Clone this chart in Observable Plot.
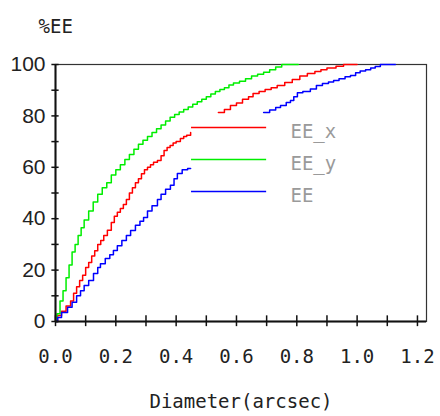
<!DOCTYPE html>
<html>
<head>
<meta charset="utf-8">
<script src="https://cdn.jsdelivr.net/npm/d3@7"></script>
<script src="https://cdn.jsdelivr.net/npm/@observablehq/plot@0.6"></script>
<style>
  body { margin: 0; background: #fff; }
</style>
</head>
<body>
<div id="chart"></div>
<script>
// Encircled energy (%) versus aperture diameter (arcsec); null marks a break in a curve.
const eeX = [
  [0, 0], [0.007, 2.3], [0.02, 4], [0.035, 6], [0.05, 8], [0.06, 11], [0.07, 13.5],
  [0.08, 16], [0.09, 18], [0.1, 21], [0.11, 23], [0.12, 25.5], [0.13, 27.5], [0.14, 30],
  [0.15, 31.5], [0.16, 33.5], [0.172, 35.5], [0.185, 38.5], [0.195, 41], [0.205, 42.5],
  [0.215, 44], [0.225, 45.5], [0.235, 47.5], [0.245, 50], [0.255, 52], [0.265, 54],
  [0.275, 55.5], [0.285, 57.5], [0.295, 59], [0.305, 60], [0.315, 61], [0.325, 62],
  [0.338, 62.6], [0.35, 64.5], [0.36, 66.5], [0.37, 67.7], [0.38, 68.5], [0.39, 69.5],
  [0.4, 70], [0.414, 71.2], [0.425, 72], [0.435, 72.5], [0.448, 73.5],
  [0.5, null],
  [0.54, 81.3], [0.56, 82.5], [0.58, 84], [0.6, 85], [0.62, 86.5], [0.64, 87.5],
  [0.655, 88.7], [0.675, 89.5], [0.695, 90.3], [0.715, 91], [0.735, 91.8], [0.76, 93],
  [0.785, 94.2], [0.81, 95.5], [0.835, 96.5], [0.86, 97.3], [0.88, 98], [0.9, 98.6],
  [0.93, 99.3], [0.955, 100], [1.0, 100]
];
const eeY = [
  [0, 0], [0.005, 3], [0.015, 8], [0.025, 12], [0.035, 17], [0.045, 22], [0.055, 27],
  [0.065, 30], [0.075, 33.5], [0.085, 36.5], [0.095, 39.5], [0.11, 43], [0.125, 46.5],
  [0.14, 49.5], [0.155, 52], [0.17, 54], [0.185, 57], [0.2, 59], [0.215, 61], [0.23, 63],
  [0.245, 65], [0.26, 67], [0.275, 69], [0.29, 70.5], [0.305, 72], [0.32, 73.5],
  [0.335, 75], [0.35, 76.5], [0.365, 78], [0.38, 79.5], [0.395, 80.5], [0.41, 81.5],
  [0.425, 82.5], [0.44, 83.5], [0.455, 84.5], [0.47, 85.5], [0.485, 86.5], [0.5, 87.5],
  [0.515, 88.5], [0.53, 89.5], [0.545, 90.3], [0.56, 91], [0.575, 92], [0.59, 92.8],
  [0.61, 93.5], [0.63, 94.5], [0.65, 95.5], [0.67, 96.2], [0.69, 97], [0.71, 98],
  [0.73, 99], [0.75, 100], [0.805, 100]
];
const eeTotal = [
  [0, 0], [0.007, 1.6], [0.02, 3.5], [0.04, 5.5], [0.055, 7.5], [0.07, 10], [0.083, 12],
  [0.095, 14], [0.11, 16], [0.126, 18.7], [0.14, 21], [0.149, 22.5], [0.165, 24.5],
  [0.18, 26], [0.192, 27.6], [0.205, 29.5], [0.22, 31.5], [0.235, 33.5], [0.249, 35.4],
  [0.265, 37.5], [0.28, 39], [0.292, 40.5], [0.305, 43], [0.32, 45], [0.338, 47.5],
  [0.35, 49.5], [0.365, 51.5], [0.381, 53], [0.393, 55.5], [0.404, 57.6], [0.42, 59],
  [0.438, 59.5], [0.448, 59.5],
  [0.6, null],
  [0.69, 81.3], [0.71, 82.3], [0.73, 83.3], [0.746, 84], [0.765, 85.2], [0.779, 86],
  [0.79, 87.5], [0.802, 89], [0.82, 89.5], [0.845, 90.5], [0.865, 91.8], [0.885, 92.6],
  [0.905, 93.2], [0.922, 93.8], [0.94, 94.5], [0.96, 95.2], [0.978, 95.7], [0.995, 96.8],
  [1.01, 97.5], [1.028, 98], [1.045, 98.6], [1.06, 99.2], [1.077, 100], [1.127, 100]
];

const seriesNames = ["EE_x", "EE_y", "EE"];
const seriesColors = ["#ff0000", "#00ee00", "#0000ff"];
const seriesData = [eeX, eeY, eeTotal];

const xMinorTicks = [0, 0.1, 0.2, 0.3, 0.4, 0.5, 0.6, 0.7, 0.8, 0.9, 1.0, 1.1, 1.2];
const xLabelTicks = [0, 0.2, 0.4, 0.6, 0.8, 1.0, 1.2];
const yMinorTicks = [0, 10, 20, 30, 40, 50, 60, 70, 80, 90, 100];
const yLabelTicks = [0, 20, 40, 60, 80, 100];

const mono = "'DejaVu Sans Mono', monospace";
const sans = "'Liberation Sans', Arial, sans-serif";

// legend rows sit inside the plot area, in data units
const legendY = [75.5, 63, 50.6];

const curveMarks = seriesData.map((s, i) =>
  Plot.line(s, {
    x: d => d[0], y: d => d[1],
    curve: "step-after",
    stroke: seriesColors[i], strokeWidth: 1.5
  })
);

const legendMarks = seriesNames.flatMap((name, i) => [
  Plot.ruleY([legendY[i]], {x1: 0.451, x2: 0.70, stroke: seriesColors[i], strokeWidth: 1.5}),
  Plot.text([name], {
    text: d => d, x: 0.779, y: legendY[i], dy: 4,
    textAnchor: "start", fill: "#9a9a9a", fontFamily: mono, fontSize: 19
  })
]);

const chart = Plot.plot({
  width: 440,
  height: 416,
  marginTop: 64,
  marginLeft: 55,
  marginRight: 14,
  marginBottom: 95,
  x: {domain: [0, 1.23]},
  y: {domain: [0, 100]},
  style: {background: "#fff", color: "#222", fontFamily: mono, fontSize: "19px"},
  marks: [
    Plot.frame({stroke: "#333", strokeWidth: 1.2}),
    ...curveMarks,
    Plot.ruleX([0], {stroke: "#111", strokeWidth: 2}),
    Plot.ruleY([0], {stroke: "#111", strokeWidth: 2}),
    Plot.ruleX(xMinorTicks, {x: d => d, y1: -2, y2: 2.2, stroke: "#111", strokeWidth: 1.5}),
    Plot.ruleY(yMinorTicks, {y: d => d, x1: -0.012, x2: 0.012, stroke: "#111", strokeWidth: 1.5}),
    Plot.axisX({
      ticks: xLabelTicks, tickSize: 0, tickPadding: 28,
      tickFormat: d3.format(".1f"), label: null,
      fontFamily: mono, fontSize: 19, fill: "#222"
    }),
    Plot.axisY({
      ticks: yLabelTicks, tickSize: 0, tickPadding: 10,
      label: null, fontFamily: sans, fontSize: 21, fill: "#222"
    }),
    ...legendMarks,
    Plot.text(["%EE"], {
      text: d => d, frameAnchor: "top-left", dx: -17, dy: -45,
      textAnchor: "start", fontFamily: mono, fontSize: 19, fill: "#222"
    }),
    Plot.text(["Diameter(arcsec)"], {
      text: d => d, frameAnchor: "bottom", dy: 86,
      fontFamily: mono, fontSize: 19, fill: "#222"
    })
  ]
});

document.getElementById("chart").appendChild(chart);
</script>
</body>
</html>
